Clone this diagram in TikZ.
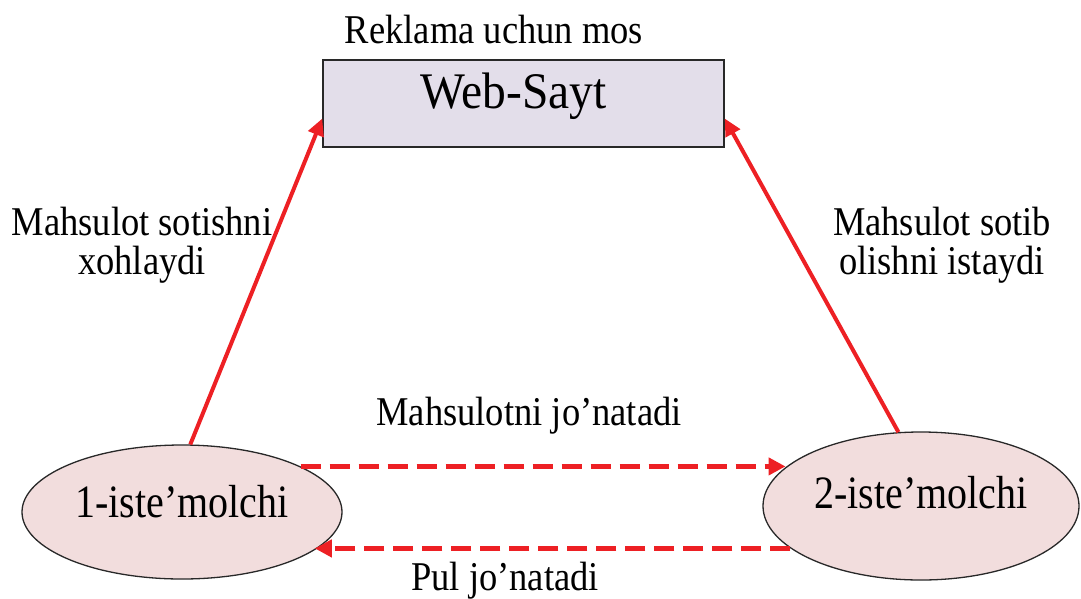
\documentclass[tikz,border=0pt]{standalone}
\usepackage{fontspec}
\usepackage{graphicx}
\setmainfont{Liberation Serif}
\usetikzlibrary{shapes.geometric,arrows.meta}
\definecolor{arrowred}{RGB}{237,32,36}
\definecolor{boxfill}{RGB}{227,222,234}
\definecolor{ellfill}{RGB}{242,221,221}
\definecolor{edge}{RGB}{40,40,40}
\newcommand\tallA[1]{\scalebox{1}[1.12]{#1}}
\newcommand\tallB[1]{\scalebox{1}[1.16]{#1}}
\newcommand\tallC[1]{\scalebox{1}[1.08]{#1}}
\begin{document}
\begin{tikzpicture}[x=1pt,y=-1pt,
  lbl/.style={font=\fontsize{36.5}{39}\selectfont, inner sep=0pt, align=center},
  sitebox/.style={draw=edge, line width=1.5pt, fill=boxfill, minimum width=401pt, minimum height=87pt, inner sep=0pt, font=\fontsize{47.5}{50}\selectfont},
  consumer/.style={ellipse, draw=edge, line width=1.3pt, fill=ellfill, inner sep=0pt, font=\fontsize{40}{44}\selectfont},
  solidarrow/.style={draw=arrowred, line width=4pt, -{Triangle[length=17pt,width=16pt]}},
  dasharrow/.style={draw=arrowred, line width=5pt, dash pattern=on 20pt off 9pt, -{Triangle[length=17pt,width=17pt]}}
]
\useasboundingbox (0,0) rectangle (1081,598);
\node[sitebox, text height=22pt, text depth=13pt] (box) at (523.5,103.5) {\tallC{Web-Sayt}\hspace*{20pt}};
\node[consumer, minimum width=320pt, minimum height=134pt, text height=20pt, text depth=10pt] (e1) at (182,512) {\tallB{1-iste’molchi}};
\node[consumer, minimum width=316pt, minimum height=148pt, text height=16pt, text depth=12pt] (e2) at (921,506) {\tallB{2-iste’molchi}};

\node[lbl, anchor=base] (reklama) at (494,43) {\tallA{Reklama uchun mos}};
\node[lbl] (sell) at (142,245) {\tallA{Mahsulot sotishni}\\\tallA{xohlaydi}};
\node[lbl] (buy) at (942,245) {\tallA{Mahsulot sotib}\\\tallA{olishni istaydi}};
\node[lbl, anchor=base] (send) at (529,425) {\tallA{Mahsulotni jo’natadi}};
\node[lbl, anchor=base] (pay) at (505,590) {\tallA{Pul jo’natadi}};

\draw[solidarrow] (e1.83) -- ([yshift=-15pt]box.west);
\draw[solidarrow] (e2.107) -- ([yshift=-15pt]box.east);
\draw[dasharrow] (e1.21) -- (e1.21 -| e2.164);
\draw[dasharrow] (e2.198) -- (e2.198 -| e1.344);
\end{tikzpicture}
\end{document}
